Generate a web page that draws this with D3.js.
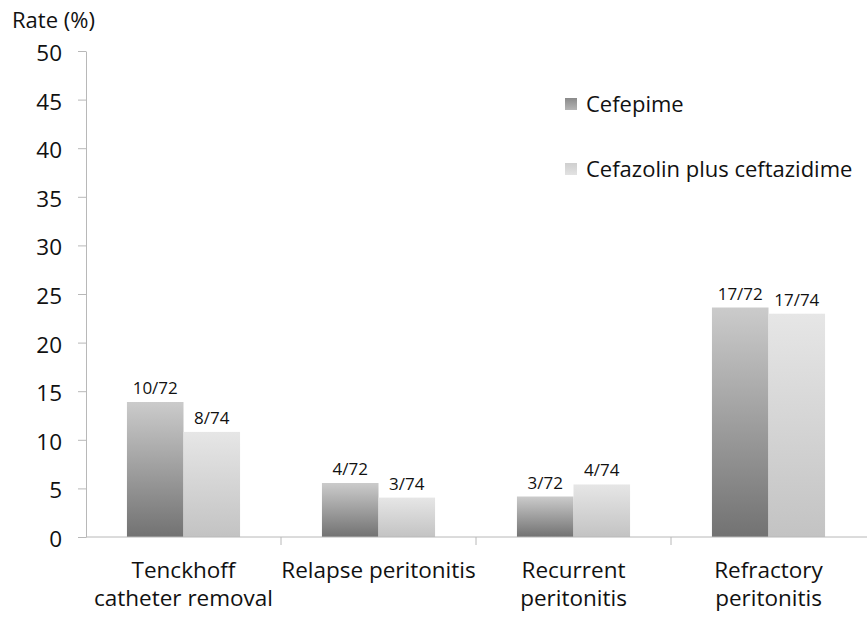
<!DOCTYPE html>
<html>
<head>
<meta charset="utf-8">
<script src="https://cdn.jsdelivr.net/npm/d3@7"></script>
<style>
  html, body { margin: 0; padding: 0; background: #fff; }
  svg { display: block; font-family: "Open Sans", sans-serif; }
</style>
</head>
<body>
<svg id="chart" width="867" height="617"></svg>
<script>
// Outcome categories (line breaks inside labels are split on "\n")
const categories = ["Tenckhoff\ncatheter removal", "Relapse peritonitis", "Recurrent\nperitonitis", "Refractory\nperitonitis"];
const seriesNames = ["Cefepime", "Cefazolin plus ceftazidime"];
// Event counts and group sizes for each arm
const cefepimeCounts = [10, 4, 3, 17];
const cefepimeTotals = [72, 72, 72, 72];
const cefazolinCounts = [8, 3, 4, 17];
const cefazolinTotals = [74, 74, 74, 74];
const yTicks = [0, 5, 10, 15, 20, 25, 30, 35, 40, 45, 50];

const counts = [cefepimeCounts, cefazolinCounts];
const totals = [cefepimeTotals, cefazolinTotals];

const svg = d3.select("#chart");
const margin = { left: 86, right: 1, top: 51, bottom: 80 };
const W = 867, H = 617;
const FONT = "'Open Sans', sans-serif";
const BIG = 22.5;

const x0 = d3.scaleBand().domain(d3.range(categories.length))
  .range([margin.left, W - margin.right]).paddingInner(0.42).paddingOuter(0.21);
const x1 = d3.scaleBand().domain(d3.range(seriesNames.length))
  .range([0, x0.bandwidth()]).padding(0);
const y = d3.scaleLinear().domain([0, 50]).range([537, 51]);

// Vertical gradients: lighter at the top of each bar, darker at the base
const defs = svg.append("defs");
const grads = [
  { id: "g0", top: "#cbcbcb", bottom: "#727272" },
  { id: "g1", top: "#e6e6e6", bottom: "#c3c3c3" },
  { id: "s0", top: "#8a8a8a", bottom: "#b5b5b5" },
  { id: "s1", top: "#cfcfcf", bottom: "#e2e2e2" }
];
grads.forEach(g => {
  const lg = defs.append("linearGradient").attr("id", g.id)
    .attr("x1", 0).attr("y1", 0).attr("x2", 0).attr("y2", 1);
  lg.append("stop").attr("offset", "0%").attr("stop-color", g.top);
  lg.append("stop").attr("offset", "100%").attr("stop-color", g.bottom);
});

// Y axis
const axisColor = "#b8b8b8";
const yAxis = svg.append("g").attr("transform", `translate(${margin.left},0)`)
  .call(d3.axisLeft(y).tickValues(yTicks).tickSize(8).tickPadding(16).tickSizeOuter(0));
yAxis.select(".domain").attr("stroke", axisColor);
yAxis.selectAll(".tick line").attr("stroke", axisColor);
yAxis.selectAll(".tick text").attr("font-size", BIG).attr("fill", "#111")
  .attr("font-family", FONT).attr("dy", "0.42em");

svg.append("text").attr("x", 12).attr("y", 28).attr("font-size", 22).attr("fill", "#111")
  .text("Rate (%)");

// Bars
const data = [];
categories.forEach((c, i) => {
  seriesNames.forEach((s, j) => {
    data.push({ i, j, n: counts[j][i], t: totals[j][i], v: counts[j][i] / totals[j][i] * 100 });
  });
});

svg.append("g").selectAll("rect").data(data).join("rect")
  .attr("x", d => x0(d.i) + x1(d.j))
  .attr("y", d => y(d.v))
  .attr("width", x1.bandwidth())
  .attr("height", d => y(0) - y(d.v))
  .attr("fill", d => `url(#g${d.j})`);

// Value labels (count / group size)
svg.append("g").selectAll("text").data(data).join("text")
  .attr("x", d => x0(d.i) + x1(d.j) + x1.bandwidth() / 2)
  .attr("y", d => y(d.v) - 8)
  .attr("text-anchor", "middle")
  .attr("font-size", 17).attr("fill", "#111")
  .text(d => `${d.n}/${d.t}`);

// X axis with ticks between categories
const xAxisG = svg.append("g");
xAxisG.append("line").attr("x1", margin.left).attr("x2", W).attr("y1", y(0)).attr("y2", y(0))
  .attr("stroke", axisColor);
d3.range(1, categories.length).forEach(k => {
  const xx = margin.left + k * (W - margin.right - margin.left) / categories.length;
  xAxisG.append("line").attr("x1", xx).attr("x2", xx).attr("y1", y(0)).attr("y2", y(0) + 8)
    .attr("stroke", axisColor);
});

// Category labels
categories.forEach((c, i) => {
  const cx = x0(i) + x0.bandwidth() / 2;
  const t = svg.append("text")
    .attr("x", cx)
    .attr("y", 578)
    .attr("text-anchor", "middle").attr("font-size", BIG).attr("fill", "#111");
  c.split("\n").forEach((line, k) => {
    t.append("tspan").attr("x", cx).attr("dy", k === 0 ? 0 : 28).text(line);
  });
});

// Legend
const legend = svg.append("g");
seriesNames.forEach((s, j) => {
  const base = 112 + j * 65;
  legend.append("rect").attr("x", 565).attr("y", base - 14).attr("width", 12).attr("height", 12)
    .attr("fill", `url(#s${j})`);
  legend.append("text").attr("x", 586).attr("y", base).attr("font-size", 22).attr("fill", "#111").text(s);
});
</script>
</body>
</html>
